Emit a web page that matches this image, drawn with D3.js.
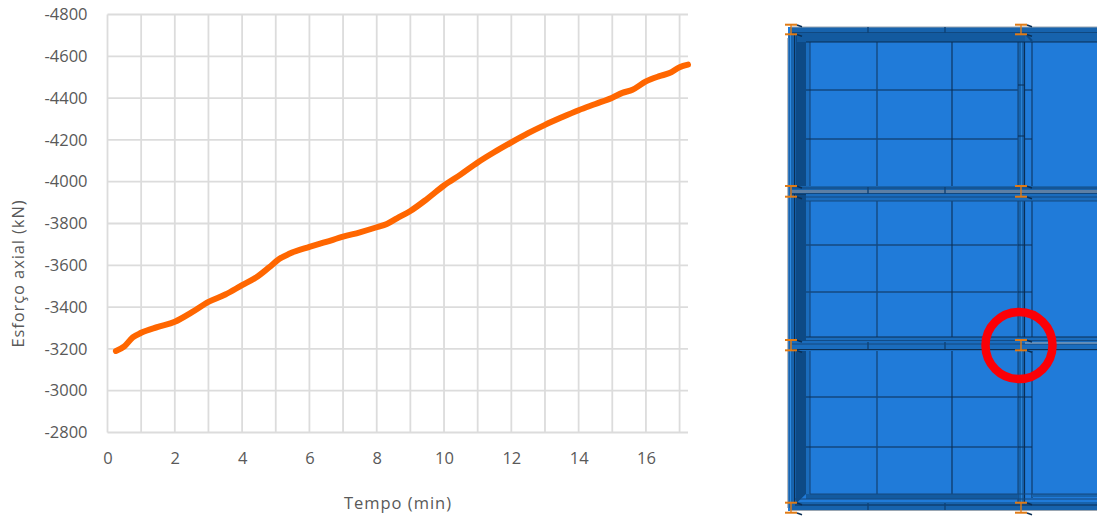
<!DOCTYPE html>
<html><head><meta charset="utf-8">
<script src="https://cdn.jsdelivr.net/npm/d3@7"></script>
<style>html,body{margin:0;padding:0;background:#fff;overflow:hidden}svg{display:block}text{font-family:"Open Sans",sans-serif}</style>
</head><body><svg id="c" width="1097" height="517"></svg>
<script>
const tempo=[0.25,0.5,0.75,1,1.5,2,2.5,3,3.5,4,4.4,4.8,5.1,5.4,6,6.5,7,7.5,8,8.3,8.6,9,9.5,10,10.5,11,11.5,12,12.5,13,13.5,14,14.5,15,15.3,15.6,16,16.4,16.7,17,17.25];
const esforco=[-3190,-3212,-3255,-3277,-3305,-3330,-3375,-3425,-3460,-3505,-3540,-3590,-3630,-3655,-3688,-3712,-3737,-3758,-3782,-3798,-3825,-3860,-3918,-3982,-4035,-4092,-4142,-4188,-4232,-4272,-4308,-4342,-4372,-4402,-4425,-4440,-4480,-4505,-4520,-4548,-4560];
const xTicks=[0,2,4,6,8,10,12,14,16];
const xGrid=[0,1,2,3,4,5,6,7,8,9,10,11,12,13,14,15,16,17];
const yTicks=[-2800,-3000,-3200,-3400,-3600,-3800,-4000,-4200,-4400,-4600,-4800];
const xTitle="Tempo (min)", yTitle="Esforço axial (kN)";

const svg=d3.select("#c");
const x=d3.scaleLinear().domain([0,17.25]).range([107.5,688]);
const y=d3.scaleLinear().domain([-2800,-4800]).range([432.5,14.5]);
const gridC="#dcdcdc", txt="#595959";

const g=svg.append("g");
g.selectAll(".v").data(xGrid).join("line").attr("x1",d=>x(d)).attr("x2",d=>x(d)).attr("y1",y(-4800)).attr("y2",y(-2800)).attr("stroke",gridC).attr("stroke-width",1.8);
g.selectAll(".h").data(yTicks).join("line").attr("x1",x(0)).attr("x2",x(17.25)).attr("y1",d=>y(d)).attr("y2",d=>y(d)).attr("stroke",gridC).attr("stroke-width",1.8);

const ax=svg.append("g").attr("transform",`translate(0,${y(-2800)})`).call(d3.axisBottom(x).tickValues(xTicks).tickSize(0).tickPadding(20).tickFormat(d3.format("d")));
ax.select(".domain").remove();
ax.selectAll("text").attr("font-size",16.5).attr("fill",txt).style("font-family",'"Open Sans",sans-serif');
const ay=svg.append("g").attr("transform",`translate(${x(0)},0)`).call(d3.axisLeft(y).tickValues(yTicks).tickSize(0).tickPadding(20).tickFormat(d=>String(d)));
ay.select(".domain").remove();
ay.selectAll("text").attr("font-size",16.5).attr("fill",txt).style("font-family",'"Open Sans",sans-serif');

svg.append("text").attr("x",398).attr("y",509).attr("text-anchor","middle").attr("font-size",16.5).attr("letter-spacing",1).attr("fill",txt).text(xTitle);
svg.append("text").attr("transform","translate(24,273.5) rotate(-90)").attr("text-anchor","middle").attr("font-size",16.5).attr("letter-spacing",.9).attr("fill",txt).text(yTitle);

svg.append("path").datum(tempo.map((t,i)=>[t,esforco[i]]))
 .attr("d",d3.line().x(d=>x(d[0])).y(d=>y(d[1])).curve(d3.curveMonotoneX))
 .attr("fill","none").attr("stroke","#ff6600").attr("stroke-width",6).attr("stroke-linecap","round").attr("stroke-linejoin","round");

// Structural model picture
const m=svg.append("g");
const R=(px,py,w,h,f)=>m.append("rect").attr("x",px).attr("y",py).attr("width",w).attr("height",h).attr("fill",f);
const L=(a,b,c,d,s,w)=>m.append("line").attr("x1",a).attr("y1",b).attr("x2",c).attr("y2",d).attr("stroke",s).attr("stroke-width",w);
const P=(pts,f)=>m.append("polygon").attr("points",pts).attr("fill",f);
const blue="#207bd9", dk="#0d4a86", mid="#1763ad", lite="#1a6cbd", line="#0b2f55", ln2="#15497f", edge="#2d8ae0";
const W=1097;
// field
R(788,27,W-788,484,blue);
// left column
R(787,38,1.4,470,"#b8bcc0");
R(788.5,33,7,475,mid);
L(790.5,33,790.5,508,edge,1);
L(794.5,33,794.5,508,line,1);
// column dark web, tapered at both ends by the haunches
P("795.5,33 806,42 806,494 795.5,504",dk);
R(806,42,4,452,lite);
L(810,42,810,495,ln2,1.2);
// panel lines
[[90,line,1.2],[139,line,1.2],[245,ln2,1.5],[292,ln2,1.5],[397,line,1.2],[447,line,1.2]].forEach(([py,s,w])=>L(806,py,1032,py,s,w));
[[877,ln2,1.4],[952,line,1.1],[1032,line,1]].forEach(([px,s,w])=>L(px,42,px,498,s,w));
// interior column
R(1018,35,7,470,mid);
L(1018,38,1018,503,ln2,1.2);
L(1021.5,38,1021.5,503,edge,.8);
L(1024.5,35,1024.5,505,line,1.2);
[85,136,245,292,397,447].forEach(py=>L(1018,py,1025,py,line,1));
// top beam
R(790,27,W-790,6,mid); L(791,27,W,27,"#9aa6b2",1.2); L(792,33,W,33,line,1.2);
R(797,33,W-797,9,"#135a9f");
R(1025,33,72,9,mid);
L(806,42,W,42,line,1.2);
L(1025,33,1032,41,dk,2);
// second beam
R(790,186,W-790,8,mid); R(792,190,W-792,3,"#5d7fa4"); L(792,188,W,188,ln2,1.2); L(792,194,W,194,line,1.2);
R(806,194,W-806,7,lite); L(806,197,W,197,ln2,1); L(806,201,W,201,ln2,1.2);
// third beam
R(806,337,W-806,4,lite); L(806,337,W,337,line,1.2); L(806,341,W,341,line,1);
R(790,341,W-790,10,lite); L(792,344,W,344,ln2,1); L(792,349.5,W,349.5,line,1.2);
L(1025,343,W,343,"#a9b4bf",1.2);
// bottom beam
R(806,494,212,5,"#135a9f"); R(1032,494,65,3,mid); L(810,494,W,494,ln2,1);
R(790,502,W-790,9,mid); L(795,499,W,499,ln2,1); L(795,505,W,505,line,1); L(790,510.5,W,510.5,"#9aa6b2",1.2);
[[868,27,33],[945,27,33],[868,187,194],[945,187,194],[868,342,349],[945,342,349],[868,503,510],[945,503,510]].forEach(([a,b,c])=>L(a,b,a,c,"#0f4276",1.4));
// I-section connectors
const conn=[[24.7,34.3],[186,196.7],[340,350.3],[502.7,512.7]];
const orange="#e07b16";
[791,1021].forEach(cx=>conn.forEach(([a,b])=>{
  L(cx-6,a,cx+6,a,orange,2);
  L(cx-6,b,cx+6,b,orange,2);
  L(cx,a,cx,b,orange,1.4);
  L(cx+6,a+.3,cx+11,a+2,"#0b2f55",1.5);
  L(cx+6,b+.3,cx+11,b+2,"#0b2f55",1.5);
}));
// red highlight circle
svg.append("circle").attr("cx",1019).attr("cy",345.5).attr("r",33.5).attr("fill","none").attr("stroke","#fb0006").attr("stroke-width",8.5);
</script></body></html>
